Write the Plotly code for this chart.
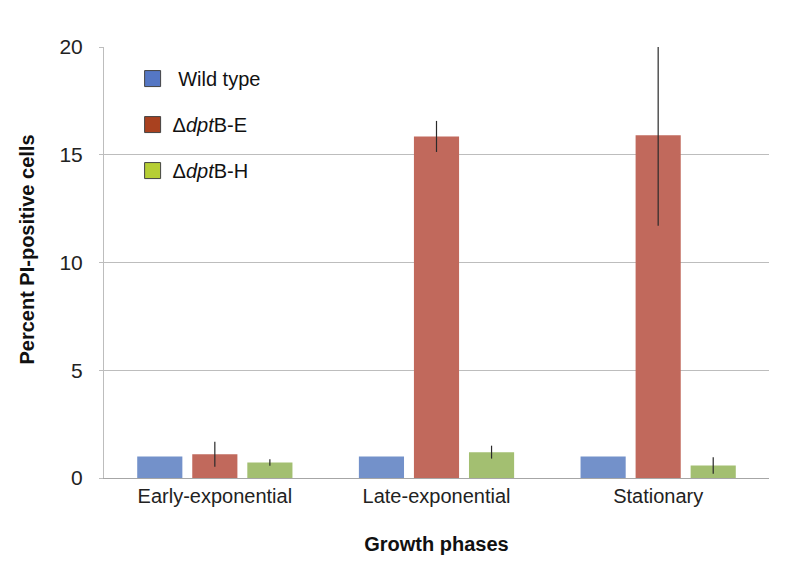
import plotly.graph_objects as go

phases = ['Early-exponential', 'Late-exponential', 'Stationary']
series_names = [' Wild type', 'Δ<i>dpt</i>B-E', 'Δ<i>dpt</i>B-H']
wild_type = [1.0, 1.0, 1.0]
dptb_e = [1.1, 15.85, 15.9]
dptb_h = [0.72, 1.2, 0.58]
err_e = [0.58, 0.72, 4.2]
err_h = [0.15, 0.3, 0.38]
err_wt = [0, 0, 0]

bar_colors = ['#7391CA', '#C1695C', '#A3BF71']
legend_colors = ['#5577C4', '#A9411F', '#B6CE34']

fig = go.Figure()
for name, vals, errs, col in zip(series_names, [wild_type, dptb_e, dptb_h],
                                 [err_wt, err_e, err_h], bar_colors):
    fig.add_trace(go.Bar(
        x=phases, y=vals, name=name, marker_color=col, marker_line_width=0,
        showlegend=False,
        error_y=dict(type='data', array=errs, visible=any(errs),
                     color='#2a2a2a', thickness=1.2, width=0),
    ))

# legend swatches use the darker colours of the original key
for i, (name, col) in enumerate(zip(series_names, legend_colors)):
    fig.add_trace(go.Scatter(
        x=[None], y=[None], mode='markers', name=name, legendgroup=str(i),
        marker=dict(symbol='square', size=16, color=col,
                    line=dict(color='#444', width=1)),
    ))

fig.update_layout(
    width=800, height=567,
    paper_bgcolor='white', plot_bgcolor='white',
    margin=dict(l=96, r=39, t=39, b=97),
    barmode='group', bargap=0.255, bargroupgap=0.18,
    font=dict(family='Arial, Liberation Sans, sans-serif', size=20, color='#222'),
    legend=dict(x=0.043, y=0.972, xanchor='left', yanchor='top',
                bgcolor='rgba(0,0,0,0)', tracegroupgap=17,
                font=dict(size=20, color='#111')),
)
fig.update_xaxes(
    showline=True, linecolor='#A6A6A6', linewidth=1, ticks='',
    tickfont=dict(size=20, color='#222'),
    title=dict(text='<b>Growth phases</b>', font=dict(size=20, color='#111'), standoff=30),
)
fig.update_yaxes(
    range=[0, 20], dtick=5, showgrid=True, gridcolor='#BDBDBD', gridwidth=1,
    showline=True, linecolor='#BDBDBD', linewidth=1,
    ticks='outside', ticklen=4, tickcolor='#BDBDBD', ticklabelstandoff=12,
    tickfont=dict(size=21, color='#222'), zeroline=False,
)
# y title as annotation so it can sit slightly above centre like the original
fig.add_annotation(
    text='<b>Percent PI-positive cells</b>', textangle=-90, showarrow=False,
    xref='paper', yref='paper', x=0, y=0.53, xanchor='center', yanchor='middle',
    xshift=-77, font=dict(size=20, color='#111'),
)

fig.write_html('out.html')
